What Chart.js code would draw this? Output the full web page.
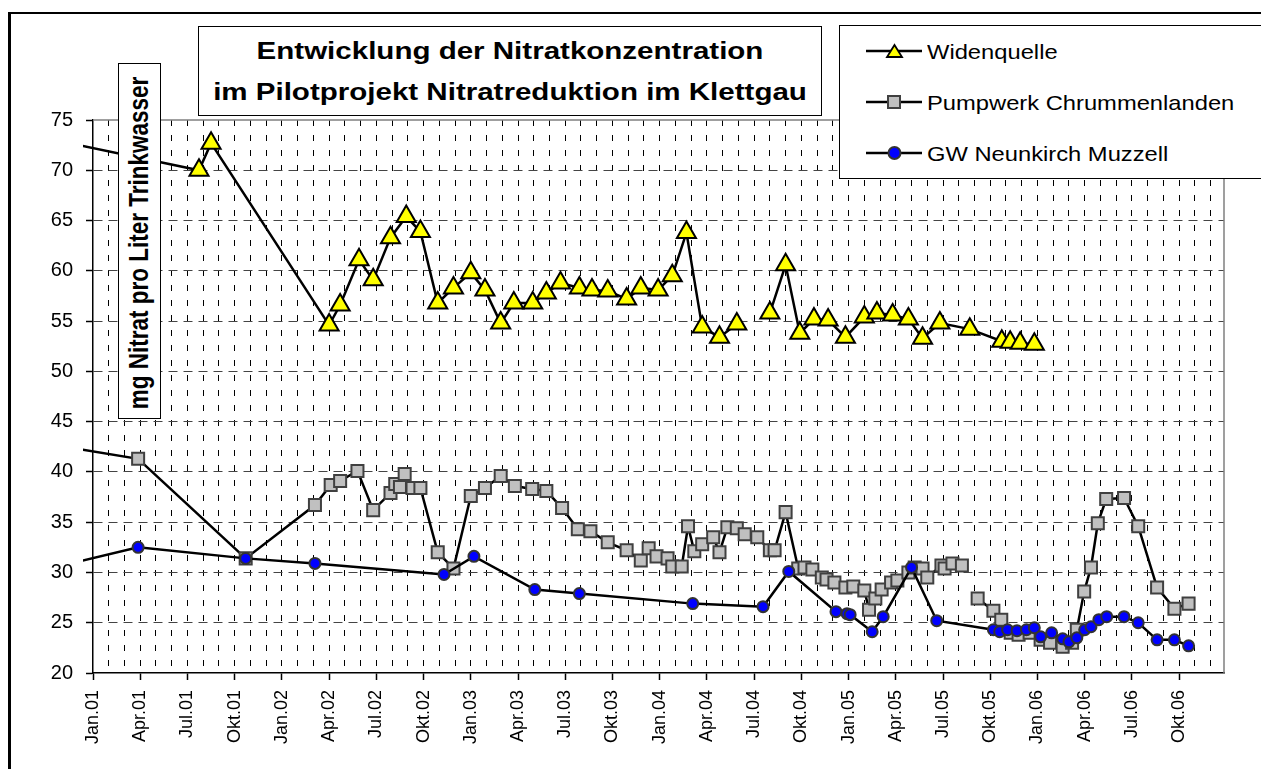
<!DOCTYPE html>
<html>
<head>
<meta charset="utf-8">
<script src="https://cdn.jsdelivr.net/npm/chart.js@4.4.1/dist/chart.umd.min.js"></script>
<style>
body { margin: 0; background: #fff; width: 1261px; height: 769px; overflow: hidden; position: relative;
       font-family: "Liberation Sans", Arial, sans-serif; color: #000; }
#frame { position: absolute; left: 8px; top: 12px; width: 1300px; height: 800px;
         border-top: 2px solid #000; border-left: 3px solid #000; }
#c { position: absolute; left: 0; top: 0; }
.box { position: absolute; background: #fff; border: 1px solid #000; box-sizing: border-box; }
.t { position: absolute; white-space: nowrap; }
.title { font-weight: bold; font-size: 24px; line-height: 24px; left: 510px; transform: translateX(-50%) scaleX(1.23); }
.leg { font-size: 21px; line-height: 21px; left: 927px; transform-origin: left center; transform: scaleX(1.13); }
#ytitle { font-weight: bold; font-size: 22.5px; line-height: 22.5px; left: 139.5px; top: 243px;
          transform: translate(-50%, -50%) rotate(-90deg) scaleY(1.2); }
svg { position: absolute; left: 0; top: 0; }
</style>
</head>
<body>
<div id="frame"></div>
<canvas id="c" width="1261" height="769"></canvas>

<div class="box" style="left:198px; top:26px; width:624px; height:90px;"></div>
<div class="t title" style="top:39px;">Entwicklung der Nitratkonzentration</div>
<div class="t title" style="top:80px;">im Pilotprojekt Nitratreduktion im Klettgau</div>

<div class="box" style="left:118px; top:63px; width:43px; height:356px;"></div>
<div class="t" id="ytitle">mg Nitrat pro Liter Trinkwasser</div>

<div class="box" style="left:839px; top:25px; width:450px; height:154px;"></div>
<svg width="1261" height="200">
  <line x1="866" y1="51" x2="922" y2="51" stroke="#000" stroke-width="2.5"/>
  <polygon points="894.5,45 902,57 887,57" fill="#ffff00" stroke="#000" stroke-width="1.8"/>
  <line x1="866" y1="102" x2="922" y2="102" stroke="#000" stroke-width="2.5"/>
  <rect x="888" y="96" width="12" height="12" fill="#c0c0c0" stroke="#404040" stroke-width="2"/>
  <line x1="866" y1="153" x2="922" y2="153" stroke="#000" stroke-width="2.5"/>
  <circle cx="894.5" cy="153" r="6" fill="#0000ff" stroke="#333" stroke-width="2"/>
</svg>
<div class="t leg" style="top:41px;">Widenquelle</div>
<div class="t leg" style="top:92px;">Pumpwerk Chrummenlanden</div>
<div class="t leg" style="top:143px;">GW Neunkirch Muzzell</div>

<script>
// quarter labels on the time axis
var monthNames = ['Jan', 'Apr', 'Jul', 'Okt'];

var widenDates = ['2000-10-01', '2001-07-23', '2001-08-16', '2002-04-01', '2002-04-22', '2002-05-28', '2002-06-25',
    '2002-07-28', '2002-08-28', '2002-09-25', '2002-10-28', '2002-11-28', '2003-01-01', '2003-01-28', '2003-02-28',
    '2003-03-23', '2003-04-29', '2003-05-25', '2003-06-22', '2003-07-28', '2003-08-22', '2003-09-22', '2003-10-28',
    '2003-11-25', '2003-12-28', '2004-01-25', '2004-02-22', '2004-03-22', '2004-04-25', '2004-05-28', '2004-07-01',
    '2004-08-01', '2004-09-01', '2004-09-28', '2004-10-25', '2004-11-22', '2004-12-25', '2005-02-01', '2005-02-25',
    '2005-03-25', '2005-04-25', '2005-05-22', '2005-06-25', '2005-08-22', '2005-10-23', '2005-11-09', '2005-11-28',
    '2005-12-25'];
var widenValues = [73.2, 70.0, 72.7, 54.6, 56.6, 61.1, 59.1,
    63.3, 65.4, 63.9, 56.8, 58.3, 59.8, 58.1, 54.8,
    56.8, 56.8, 57.8, 58.8, 58.3, 58.1, 58.0, 57.2,
    58.3, 58.1, 59.5, 63.8, 54.4, 53.4, 54.7, null,
    55.8, 60.6, 53.8, 55.2, 55.1, 53.4, 55.4, 55.8,
    55.6, 55.2, 53.3, 54.8, 54.2, 53.0, 52.9, 52.8,
    52.7];

var pumpDates = ['2000-10-01', '2001-03-27', '2001-10-22', '2002-03-04', '2002-04-04', '2002-04-22', '2002-05-25',
    '2002-06-25', '2002-07-28', '2002-08-07', '2002-08-16', '2002-08-25', '2002-09-10', '2002-09-25', '2002-10-28',
    '2002-11-28', '2003-01-01', '2003-01-28', '2003-02-28', '2003-03-25', '2003-04-28', '2003-05-25', '2003-06-25',
    '2003-07-25', '2003-08-19', '2003-09-22', '2003-10-28', '2003-11-25', '2003-12-10', '2003-12-25', '2004-01-16',
    '2004-01-25', '2004-02-13', '2004-02-25', '2004-03-07', '2004-03-22', '2004-04-13', '2004-04-25', '2004-05-10',
    '2004-05-28', '2004-06-13', '2004-07-07', '2004-08-01', '2004-08-10', '2004-09-01', '2004-09-25', '2004-10-07',
    '2004-10-22', '2004-11-10', '2004-11-19', '2004-12-04', '2004-12-25', '2005-01-10', '2005-02-01', '2005-02-10',
    '2005-02-22', '2005-03-04', '2005-03-22', '2005-04-04', '2005-04-25', '2005-05-07', '2005-05-22', '2005-06-01',
    '2005-06-28', '2005-07-04', '2005-07-19', '2005-08-07', '2005-08-20', '2005-09-07', '2005-10-07', '2005-10-22',
    '2005-11-10', '2005-11-25', '2005-12-16', '2006-01-07', '2006-01-25', '2006-02-19', '2006-03-07', '2006-03-16',
    '2006-03-30', '2006-04-13', '2006-04-26', '2006-05-12', '2006-06-16', '2006-07-13', '2006-08-19', '2006-09-22',
    '2006-10-19'];
var pumpValues = [42.8, 41.3, 31.4, 36.7, 38.7, 39.1, 40.1,
    36.2, 37.9, 38.8, 38.5, 39.8, 38.4, 38.4, 32.0,
    30.4, 37.6, 38.4, 39.6, 38.6, 38.3, 38.1, 36.4,
    34.3, 34.1, 33.0, 32.2, 31.2, 32.4, 31.6, 31.4,
    30.6, 30.6, 34.6, 32.1, 32.8, 33.5, 32.0, 34.5,
    34.4, 33.8, 33.5, 32.2, 32.2, 36.0, 30.4, 30.5,
    30.3, 29.5, 29.3, 29.0, 28.5, 28.6, 28.2, 26.3,
    27.4, 28.3, 29.0, 29.2, 30.0, 30.5, 30.4, 29.5,
    30.7, 30.4, 30.9, 30.7, null, 27.4, 26.2, 25.3,
    24.0, 23.8, 24.0, 23.3, 23.0, 22.6, 23.0, 24.3,
    28.1, 30.5, 34.9, 37.3, 37.4, 34.6, 28.5, 26.4,
    26.9];

var gwDates = ['2000-10-01', '2001-03-27', '2001-10-22', '2002-03-04', '2002-11-10', '2003-01-07', '2003-05-03',
    '2003-07-28', '2004-03-04', '2004-07-18', '2004-09-07', '2004-12-07', '2004-12-28', '2005-01-04', '2005-02-16',
    '2005-03-07', '2005-05-01', '2005-06-19', '2005-10-07', '2005-10-19', '2005-11-04', '2005-11-22', '2005-12-10',
    '2005-12-25', '2006-01-07', '2006-01-28', '2006-02-19', '2006-03-01', '2006-03-16', '2006-04-01', '2006-04-13',
    '2006-04-28', '2006-05-13', '2006-06-16', '2006-07-13', '2006-08-19', '2006-09-22', '2006-10-19'];
var gwValues = [30.3, 32.5, 31.4, 30.9, 29.8, 31.6, 28.3,
    27.9, 26.9, 26.6, 30.1, 26.1, 25.9, 25.8, 24.1,
    25.6, 30.5, 25.2, 24.3, 24.1, 24.3, 24.2, 24.3,
    24.5, 23.6, 24.0, 23.4, 23.1, 23.5, 24.3, 24.6,
    25.3, 25.6, 25.6, 25.0, 23.3, 23.3, 22.7];

// months since Jan 2001
var toMonth = function(s) {
    var p = s.split('-');
    return (p[0] - 2001) * 12 + (p[1] - 1) + (p[2] - 1) / 30;
}

var series = function(dates, values) {
    return dates.map(function(d, i) { return {x: toMonth(d), y: values[i]}; });
}

var plotFrame = {
    id: 'plotFrame',
    beforeDatasetsDraw: function(chart) {
        var a = chart.chartArea, ctx = chart.ctx;
        ctx.save();
        ctx.strokeStyle = '#808080';
        ctx.lineWidth = 1.5;
        ctx.beginPath();
        ctx.moveTo(a.left, a.top);
        ctx.lineTo(a.right, a.top);
        ctx.lineTo(a.right, a.bottom);
        ctx.stroke();
        ctx.restore();
    }
};

var clipBox = {left: 10, top: 6, right: 0, bottom: 0};
var tickFont = '"Liberation Sans", Arial, sans-serif';

new Chart(document.getElementById('c'), {
    type: 'line',
    data: {
        datasets: [{
            label: 'Widenquelle',
            data: series(widenDates, widenValues),
            order: 2,
            borderColor: '#000', borderWidth: 2.5, tension: 0, clip: clipBox,
            pointStyle: 'triangle', pointRadius: 11,
            pointBackgroundColor: '#ffff00', pointBorderColor: '#000', pointBorderWidth: 2
        }, {
            label: 'Pumpwerk Chrummenlanden',
            data: series(pumpDates, pumpValues),
            order: 1,
            borderColor: '#000', borderWidth: 2.5, tension: 0, clip: clipBox,
            pointStyle: 'rect', pointRadius: 8.5,
            pointBackgroundColor: '#c0c0c0', pointBorderColor: '#404040', pointBorderWidth: 2
        }, {
            label: 'GW Neunkirch Muzzell',
            data: series(gwDates, gwValues),
            order: 0,
            borderColor: '#000', borderWidth: 2.5, tension: 0, clip: clipBox,
            pointStyle: 'circle', pointRadius: 5.5,
            pointBackgroundColor: '#0000ff', pointBorderColor: '#333', pointBorderWidth: 2
        }]
    },
    options: {
        responsive: false,
        animation: false,
        devicePixelRatio: 1,
        layout: {padding: {left: 0, top: 120, right: 37, bottom: 0}},
        plugins: {legend: {display: false}, tooltip: {enabled: false}},
        scales: {
            x: {
                type: 'linear', min: 0, max: 71.85,
                afterBuildTicks: function(scale) {
                    var t = [];
                    for (var i = 0; i < 72; i++) t.push({value: i});
                    scale.ticks = t;
                },
                afterFit: function(scale) {
                    scale.height = 96;
                    scale.paddingLeft = 0;
                    scale.paddingRight = 0;
                },
                border: {display: true, color: '#000', width: 1.5, dash: [6, 9]},
                grid: {
                    color: function(c) {
                        var v = c.tick ? c.tick.value : 0;
                        return (v > 0 && v === Math.round(v)) ? '#000' : 'rgba(0,0,0,0)';
                    },
                    lineWidth: 1,
                    tickLength: 7,
                    tickColor: function(c) {
                        return (c.tick && c.tick.value % 3 === 0) ? '#000' : 'rgba(0,0,0,0)';
                    },
                    tickWidth: 1.5
                },
                ticks: {
                    autoSkip: false, minRotation: 90, maxRotation: 90, padding: 10,
                    color: '#000', font: {family: tickFont, size: 18},
                    callback: function(v) {
                        if (v % 3 !== 0) return '';
                        var yr = 1 + Math.floor(v / 12);
                        return monthNames[(v % 12) / 3] + '.' + (yr < 10 ? '0' : '') + yr;
                    }
                }
            },
            y: {
                min: 20, max: 75,
                afterFit: function(scale) {
                    scale.width = 93;
                    scale.paddingTop = 0;
                    scale.paddingBottom = 0;
                },
                border: {display: true, color: '#000', width: 1.5, dash: [9, 6]},
                grid: {
                    color: function(c) {
                        var v = c.tick ? c.tick.value : 20;
                        return (v > 20 && v < 75) ? '#444' : 'rgba(0,0,0,0)';
                    },
                    lineWidth: 1,
                    tickLength: 7,
                    tickColor: '#000',
                    tickWidth: 1.5
                },
                ticks: {
                    stepSize: 5, padding: 13, color: '#000',
                    font: {family: tickFont, size: 20}
                }
            }
        }
    },
    plugins: [plotFrame]
});
</script>
</body>
</html>
